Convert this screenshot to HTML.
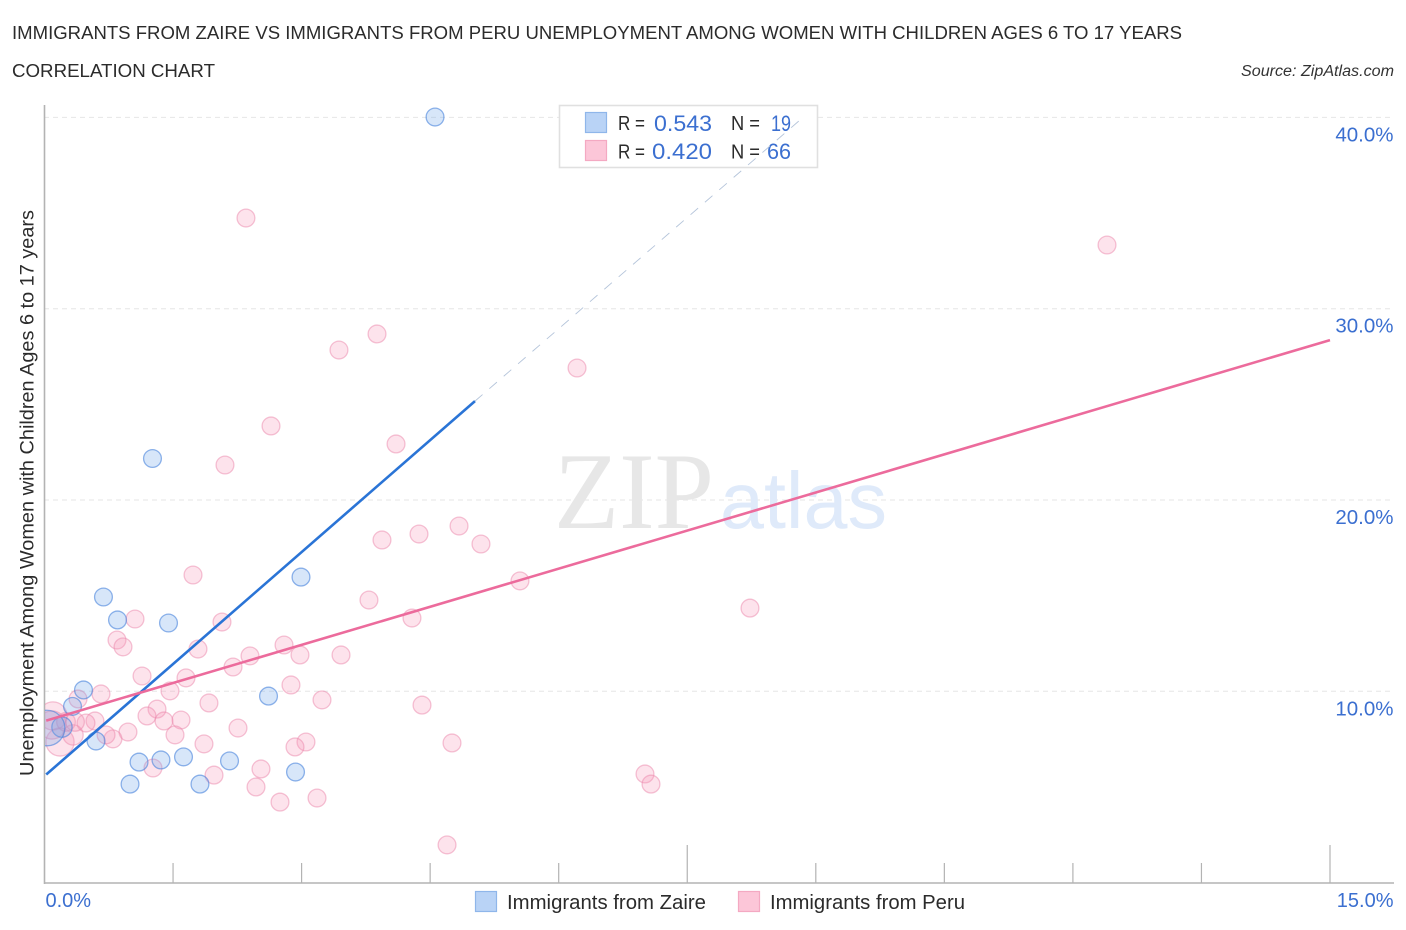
<!DOCTYPE html>
<html lang="en">
<head>
<meta charset="utf-8">
<title>Immigrants from Zaire vs Immigrants from Peru Correlation Chart</title>
<style>
html,body{margin:0;padding:0;background:#fff;}
svg{display:block;font-family:"Liberation Sans",sans-serif;}
</style>
</head>
<body>
<svg id="chart" width="1406" height="930" viewBox="0 0 1406 930" xmlns="http://www.w3.org/2000/svg">
  <defs>
    <clipPath id="plot-clip"><rect x="45" y="100" width="1360" height="783"/></clipPath>
  </defs>
  <rect x="0" y="0" width="1406" height="930" fill="#ffffff"/>
  <text x="12" y="39" font-size="18.5" fill="#2b2b2b" textLength="1170" lengthAdjust="spacingAndGlyphs">IMMIGRANTS FROM ZAIRE VS IMMIGRANTS FROM PERU UNEMPLOYMENT AMONG WOMEN WITH CHILDREN AGES 6 TO 17 YEARS</text>
  <text x="12" y="77" font-size="18.5" fill="#2b2b2b" textLength="203" lengthAdjust="spacingAndGlyphs">CORRELATION CHART</text>
  <text x="1241" y="76" font-size="15.5" font-style="italic" fill="#333333" textLength="153" lengthAdjust="spacingAndGlyphs">Source: ZipAtlas.com</text>

  <g id="grid-layer"></g>

  <g>
    <text x="554" y="528" font-family="'Liberation Serif',serif" font-size="109" fill="#e7e7e7" textLength="160" lengthAdjust="spacingAndGlyphs">ZIP</text>
    <text x="720" y="528" font-size="80" fill="#dfeafa" textLength="167" lengthAdjust="spacingAndGlyphs">atlas</text>
  </g>

  <g id="axis-layer"></g>
  <g id="tick-label-layer"></g>

  <text transform="translate(33.5,776) rotate(-90)" x="0" y="0" font-size="19" fill="#2b2b2b" textLength="566" lengthAdjust="spacingAndGlyphs">Unemployment Among Women with Children Ages 6 to 17 years</text>

  <g clip-path="url(#plot-clip)">
    <g id="peru-points"></g>
    <g id="zaire-points"></g>
  </g>

  <g>
    <rect x="559.5" y="105.5" width="258" height="62" fill="#ffffff" stroke="#e0e0e0" stroke-width="1.6"/>
    <rect x="585.5" y="112.5" width="21" height="20" fill="#b9d3f6" stroke="#8fb6ea" stroke-width="1.2"/>
    <text x="618" y="130" font-size="20" fill="#2b2b2b" textLength="27" lengthAdjust="spacingAndGlyphs">R =</text>
    <text x="654" y="131" font-size="22.5" fill="#3b6fd0" textLength="58" lengthAdjust="spacingAndGlyphs">0.543</text>
    <text x="731" y="130" font-size="20" fill="#2b2b2b" textLength="29" lengthAdjust="spacingAndGlyphs">N =</text>
    <text x="771" y="131" font-size="22.5" fill="#3b6fd0" textLength="20" lengthAdjust="spacingAndGlyphs">19</text>
    <rect x="585.5" y="140.5" width="21" height="20" fill="#fcc6d8" stroke="#f4a9c2" stroke-width="1.2"/>
    <text x="618" y="158.5" font-size="20" fill="#2b2b2b" textLength="27" lengthAdjust="spacingAndGlyphs">R =</text>
    <text x="652" y="159" font-size="22.5" fill="#3b6fd0" textLength="60" lengthAdjust="spacingAndGlyphs">0.420</text>
    <text x="731" y="158.5" font-size="20" fill="#2b2b2b" textLength="29" lengthAdjust="spacingAndGlyphs">N =</text>
    <text x="767" y="159" font-size="22.5" fill="#3b6fd0" textLength="24" lengthAdjust="spacingAndGlyphs">66</text>
  </g>

  <g id="trend-layer"></g>

  <g>
    <rect x="475.5" y="891.5" width="21" height="20" fill="#b9d3f6" stroke="#8fb6ea" stroke-width="1.2"/>
    <text x="507" y="909" font-size="20" fill="#2b2b2b" textLength="199" lengthAdjust="spacingAndGlyphs">Immigrants from Zaire</text>
    <rect x="738.5" y="891.5" width="21" height="20" fill="#fcc6d8" stroke="#f4a9c2" stroke-width="1.2"/>
    <text x="770" y="909" font-size="20" fill="#2b2b2b" textLength="195" lengthAdjust="spacingAndGlyphs">Immigrants from Peru</text>
  </g>
</svg>

<script>
const zaireX = [4.557,1.26,0.688,0.852,1.447,2.993,0.455,0.327,2.614,0.601,1.103,1.359,1.622,2.159,2.929,0.998,1.814,0.204,0.03];
const zaireY = [40.02,22.17,14.93,13.73,13.57,15.97,10.07,9.21,9.75,7.40,6.30,6.41,6.57,6.36,5.78,5.15,5.15,8.13,8.08];
const zaireWeight = [1,1,1,1,1,1,1,1,1,1,1,1,1,1,1,1,1,1.3,4];

const peruX = [2.351,12.398,3.880,3.436,6.214,2.643,4.102,2.106,4.837,3.938,4.370,5.093,1.733,5.548,3.786,8.232,4.288,1.056,2.071,0.846,0.916,2.795,1.791,2.398,2.981,3.460,2.200,1.138,1.651,2.876,1.464,0.659,0.391,3.238,1.919,4.405,1.313,1.196,1.593,1.394,0.589,0.484,2.258,0.974,1.523,0.799,0.718,4.755,1.861,3.051,2.923,1.266,2.526,1.978,7.007,7.077,2.468,3.180,2.748,4.697,0.099,0.181,0.333,0.088,0.251,0.356];
const peruY = [34.74,33.33,28.68,27.84,26.90,23.87,22.93,21.83,18.64,17.91,18.22,17.70,16.08,15.77,14.77,14.35,13.83,13.78,13.62,12.68,12.32,12.42,12.21,11.85,11.90,11.90,11.27,10.80,10.70,10.33,10.02,9.86,9.60,9.55,9.39,9.28,9.07,8.71,8.50,8.45,8.45,8.34,8.08,7.87,7.72,7.51,7.72,7.30,7.25,7.35,7.09,5.99,5.94,5.62,5.68,5.15,5.00,4.42,4.21,1.97,8.71,7.35,7.72,8.24,8.40,8.40];
const peruWeight = [1,1,1,1,1,1,1,1,1,1,1,1,1,1,1,1,1,1,1,1,1,1,1,1,1,1,1,1,1,1,1,1,1,1,1,1,1,1,1,1,1,1,1,1,1,1,1,1,1,1,1,1,1,1,1,1,1,1,1,1,2.5,2.5,1.3,2.5,1.1,1.1];

const zaireTrendX = [0.02,5.023];
const zaireTrendY = [5.65,25.17];
const zaireProjectionX = [5.023,8.815];
const zaireProjectionY = [25.17,39.86];
const peruTrendX = [0.02,15.0];
const peruTrendY = [8.47,28.36];

const yTickValues = [10,20,30,40];
const yTickLabels = ["10.0%","20.0%","30.0%","40.0%"];
const xTickValues = [1.5,3,4.5,6,7.5,9,10.5,12,13.5,15];
const xMajorTicks = [7.5,15];
const xEndValues = [0,15];
const xEndLabels = ["0.0%","15.0%"];

function xScale(v){ return 44.5 + v * 85.7; }
function yScale(v){ return 882.6 - v * 19.13; }
const NS = "http://www.w3.org/2000/svg";
function make(tag, attrs, parent){
  const el = document.createElementNS(NS, tag);
  for (const k in attrs) el.setAttribute(k, attrs[k]);
  parent.appendChild(el);
  return el;
}

const grid = document.getElementById("grid-layer");
const axes = document.getElementById("axis-layer");
const labels = document.getElementById("tick-label-layer");

yTickValues.forEach(function(v, i){
  const line = make("line", {x1:44, x2:1393, y1:yScale(v), y2:yScale(v), stroke:"#e6e6e6", "stroke-width":1, "stroke-dasharray":"5 4"}, grid);
  
  
  const t = make("text", {x:1393.5, y:yScale(v)+24, "text-anchor":"end", "font-size":20.5, fill:"#3b6fd0"}, labels);
  t.textContent = yTickLabels[i];
  
  
});

const yAxisLine = make("line", {x1:44.5, x2:44.5, y1:105, y2:884, stroke:"#b3b3b3", "stroke-width":1.6}, axes);


const xAxisLine = make("line", {x1:44, x2:1394, y1:883, y2:883, stroke:"#b3b3b3", "stroke-width":1.6}, axes);



xTickValues.forEach(function(v){
  const top = xMajorTicks.indexOf(v) >= 0 ? 845 : 863;
  const tick = make("line", {x1:xScale(v), x2:xScale(v), y1:top, y2:883, stroke:"#b3b3b3", "stroke-width":1.2}, axes);
  
  
});

xEndValues.forEach(function(v, i){
  const anchorX = i === 0 ? xScale(v) + 1 : 1393.5;
  const t = make("text", {x:anchorX, y:907, "text-anchor": i === 0 ? "start" : "end", "font-size":20, fill:"#3b6fd0"}, labels);
  t.textContent = xEndLabels[i];
  
  
});

const peruLayer = document.getElementById("peru-points");
peruX.forEach(function(v, i){
  const c = make("circle", {cx:xScale(v), cy:yScale(peruY[i]), r:8.9*Math.sqrt(peruWeight[i]), fill:"rgba(247,155,188,0.28)", stroke:"rgba(236,135,172,0.5)", "stroke-width":1.3}, peruLayer);
  
  
});

const zaireLayer = document.getElementById("zaire-points");
zaireX.forEach(function(v, i){
  const c = make("circle", {cx:xScale(v), cy:yScale(zaireY[i]), r:8.9*Math.sqrt(zaireWeight[i]), fill:"rgba(110,165,235,0.28)", stroke:"rgba(70,130,220,0.6)", "stroke-width":1.3}, zaireLayer);
  
  
});

const trends = document.getElementById("trend-layer");
const zaireProjection = make("line", {x1:xScale(zaireProjectionX[0]), y1:yScale(zaireProjectionY[0]), x2:xScale(zaireProjectionX[1]), y2:yScale(zaireProjectionY[1]), stroke:"#b4c4da", "stroke-width":0.9, "stroke-dasharray":"10 9"}, trends);


const zaireTrend = make("line", {x1:xScale(zaireTrendX[0]), y1:yScale(zaireTrendY[0]), x2:xScale(zaireTrendX[1]), y2:yScale(zaireTrendY[1]), stroke:"#2a74d6", "stroke-width":2.6}, trends);


const peruTrend = make("line", {x1:xScale(peruTrendX[0]), y1:yScale(peruTrendY[0]), x2:xScale(peruTrendX[1]), y2:yScale(peruTrendY[1]), stroke:"#ec6b9c", "stroke-width":2.6}, trends);


</script>
</body>
</html>
